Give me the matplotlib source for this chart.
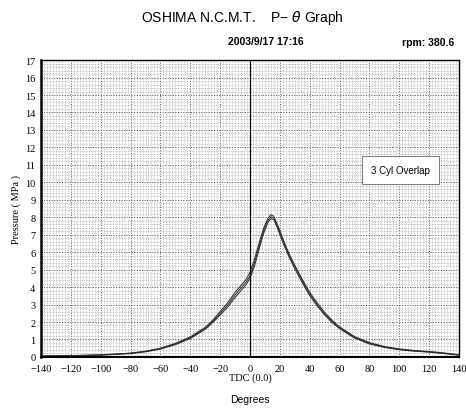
import numpy as np
import matplotlib.pyplot as plt
from matplotlib.ticker import MultipleLocator

# crank angle (deg) and pressure (MPa), 3 cylinders overlapped
degrees = [-140, -120, -100, -80, -70, -60, -50, -40, -30, -25, -20, -15, -10, -6, -3, 0,
           3, 6, 9, 12, 14, 16, 18, 20, 23, 26, 30, 35, 40, 45, 50, 55, 60, 70, 80,
           90, 100, 110, 120, 130, 140]
cyl1 = [0.05, 0.08, 0.12, 0.22, 0.33, 0.5, 0.78, 1.15, 1.7, 2.1, 2.6, 3.1, 3.7, 4.1, 4.4, 4.85,
        5.6, 6.5, 7.35, 7.95, 8.15, 8.05, 7.65, 7.25, 6.55, 5.95, 5.25, 4.45, 3.7, 3.1, 2.55, 2.1, 1.72, 1.17, 0.82,
        0.6, 0.46, 0.37, 0.31, 0.23, 0.13]
cyl2 = [0.04, 0.06, 0.1, 0.19, 0.29, 0.45, 0.7, 1.05, 1.58, 1.96, 2.4, 2.85, 3.4, 3.8, 4.1, 4.5,
        5.2, 6.15, 7.05, 7.7, 7.92, 7.85, 7.45, 7.0, 6.35, 5.75, 5.05, 4.25, 3.5, 2.92, 2.4, 1.96, 1.62, 1.08, 0.74,
        0.54, 0.41, 0.33, 0.27, 0.19, 0.1]
cyl3 = [0.05, 0.07, 0.11, 0.21, 0.31, 0.48, 0.74, 1.1, 1.64, 2.03, 2.5, 2.97, 3.55, 3.95, 4.25, 4.65,
        5.4, 6.3, 7.2, 7.82, 8.03, 7.95, 7.55, 7.12, 6.45, 5.85, 5.15, 4.35, 3.6, 3.0, 2.47, 2.03, 1.67, 1.12, 0.78,
        0.57, 0.44, 0.35, 0.29, 0.21, 0.11]

fig = plt.figure(figsize=(4.66, 4.10), dpi=100)
ax = fig.add_axes([0.088, 0.127, 0.897, 0.724])

for p in (cyl1, cyl2, cyl3):
    ax.plot(degrees, p, color='#2a2a2a', lw=0.7)

ax.axvline(0, color='black', lw=0.9)

ax.set_xlim(-140, 140)
ax.set_ylim(0, 17)
ax.xaxis.set_major_locator(MultipleLocator(20))
ax.xaxis.set_minor_locator(MultipleLocator(2))
ax.yaxis.set_major_locator(MultipleLocator(1))
ax.yaxis.set_minor_locator(MultipleLocator(0.2))
ax.grid(which='major', color='#555555', ls=':', lw=0.7)
ax.grid(which='minor', color='#999999', ls=':', lw=0.5)
ax.tick_params(which='both', length=0, labelsize=7.5)
ax.tick_params(axis='x', pad=5)
ax.tick_params(axis='y', pad=4)
for lab in ax.get_xticklabels() + ax.get_yticklabels():
    lab.set_family('Liberation Serif')
for s in ax.spines.values():
    s.set_linewidth(1.0)
ax.spines['left'].set_linewidth(1.8)
ax.spines['bottom'].set_linewidth(1.5)

ax.set_ylabel('Pressure ( MPa )', family='Liberation Serif', fontsize=7.5, labelpad=3)
ax.set_xlabel('TDC (0.0)', family='Liberation Serif', fontsize=7.5, labelpad=0)

ax.text(0.86, 0.63, '3 Cyl Overlap', transform=ax.transAxes, ha='center', va='center',
        family='Liberation Sans', fontsize=7,
        bbox=dict(boxstyle='square,pad=0.9', fc='white', ec='#666666', lw=0.6))

fig.text(0.52, 0.955, 'OSHIMA N.C.M.T.    P\u2212 $\\theta$ Graph', ha='center', va='center',
         family='Liberation Sans', fontsize=10)
fig.text(0.57, 0.897, '2003/9/17 17:16', ha='center', va='center',
         family='Liberation Sans', fontsize=7.5, weight='bold')
fig.text(0.918, 0.895, 'rpm: 380.6', ha='center', va='center',
         family='Liberation Sans', fontsize=7.5, weight='bold')
fig.text(0.537, 0.025, 'Degrees', ha='center', va='center',
         family='Liberation Sans', fontsize=7.5)

fig.savefig('out.png', dpi=100)
